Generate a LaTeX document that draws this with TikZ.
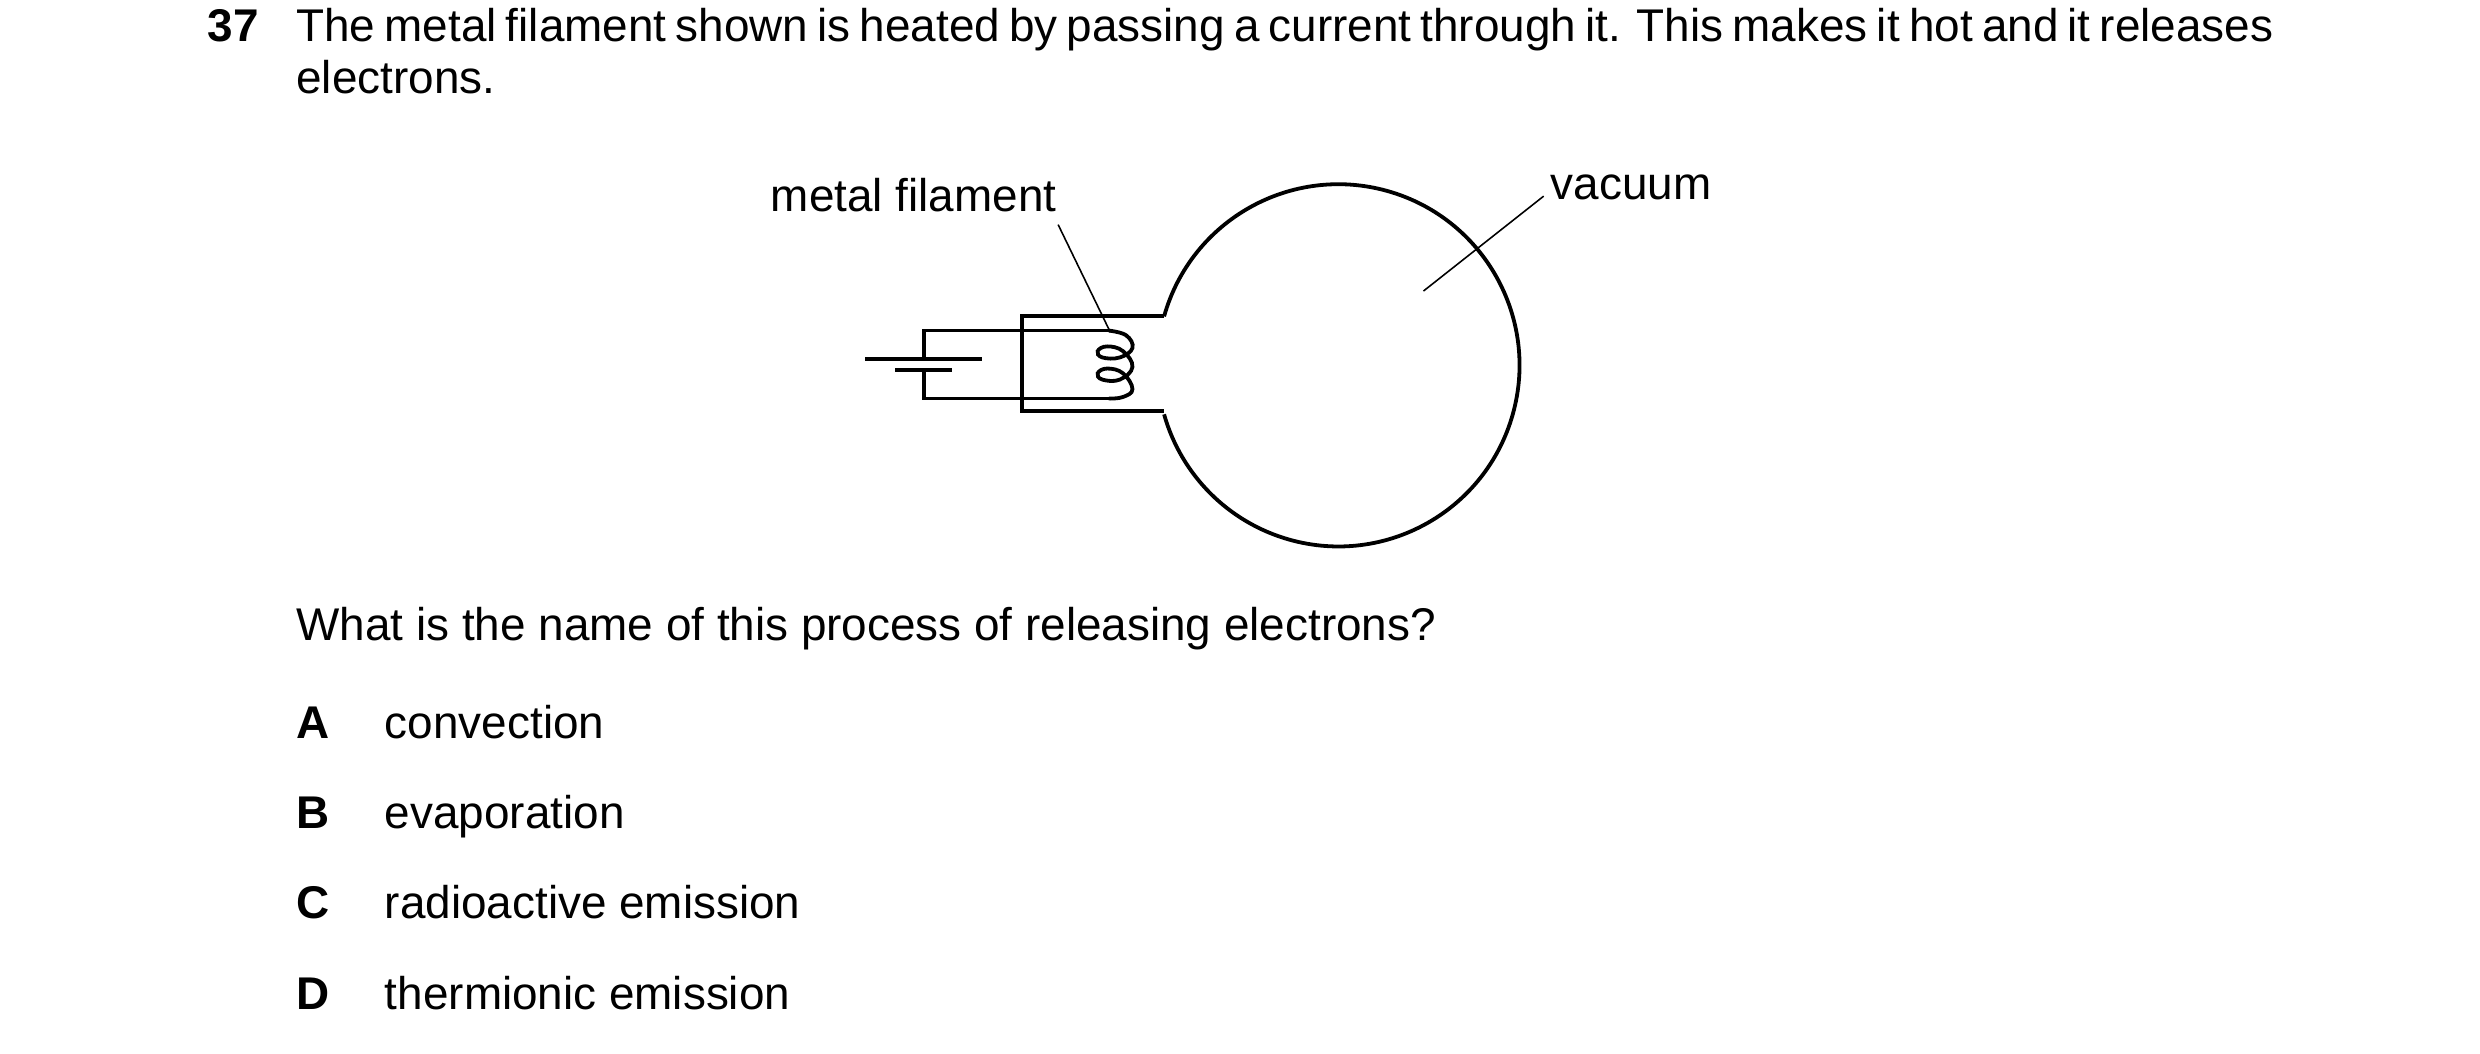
\documentclass[tikz,border=0pt]{standalone}
\usepackage{fontspec}
\setmainfont{Liberation Sans}
\usetikzlibrary{positioning}

\begin{document}
\begin{tikzpicture}[x=0.5pt, y=-0.5pt, font=\fontsize{14.5}{16.2}\selectfont,
	txt/.style={inner sep=0pt, anchor=base west},
	wire/.style={line width=1.2pt},
	lead/.style={line width=0.5pt}]
		\useasboundingbox (0,0) rectangle (1568,666);
		\node[txt] (num) at (131,26) {\textbf{37}};
		\node[inner sep=0pt, anchor=north west, text width=625pt, align=justify] (intro) at (187,5)
			{The metal filament shown is heated by passing a current through it. This makes it hot and it releases electrons.};

		% bulb and cap
		\coordinate (bulb) at (846,231);
		\coordinate (nt) at (736,200);
		\coordinate (nb) at (736,260);
		\draw[wire] (nt) arc[start angle=-164.3, end angle=164.3, radius=114.5];
		\draw[wire] (nt) -- (646,200) -- (646,260) -- (nb);

		% circuit
		\coordinate (wt) at (701,209);
		\coordinate (wb) at (701,252);
		\draw[wire] (wt) -- (584,209) -- (584,227);
		\draw[wire] (584,234) -- (584,252) -- (wb);
		\draw[wire] (547,227) -- (621,227);
		\draw[wire] (566,234) -- (602,234);
		\draw[wire] plot[smooth, tension=0.7] coordinates {(701,209) (712,212) (716,220) (708,226) (697,226) (694,222) (700,219) (710,222) (716,232) (708,240) (697,240) (694,236) (700,233) (710,236) (716,246) (710,251) (701,252)};

		% labels
		\node[txt] (lfil) at (487,134) {metal filament};
		\coordinate (pfil) at (702,210);
		\draw[lead] (669,142) -- (pfil);
		\node[txt] (lvac) at (980,126) {vacuum};
		\coordinate (pvac) at (900,184);
		\draw[lead] (976,124) -- (pvac);

		% question
		\node[txt] (q) at (187,405) {What is the name of this process of releasing electrons?};
		\foreach \l/\t/\y in {A/convection/467, B/evaporation/524, C/radioactive emission/581, D/thermionic emission/638}{
			\node[txt] (k\l) at (187,\y) {\textbf{\l}};
			\node[txt] (o\l) at (243,\y) {\t};
		}
	\end{tikzpicture}
\end{document}
